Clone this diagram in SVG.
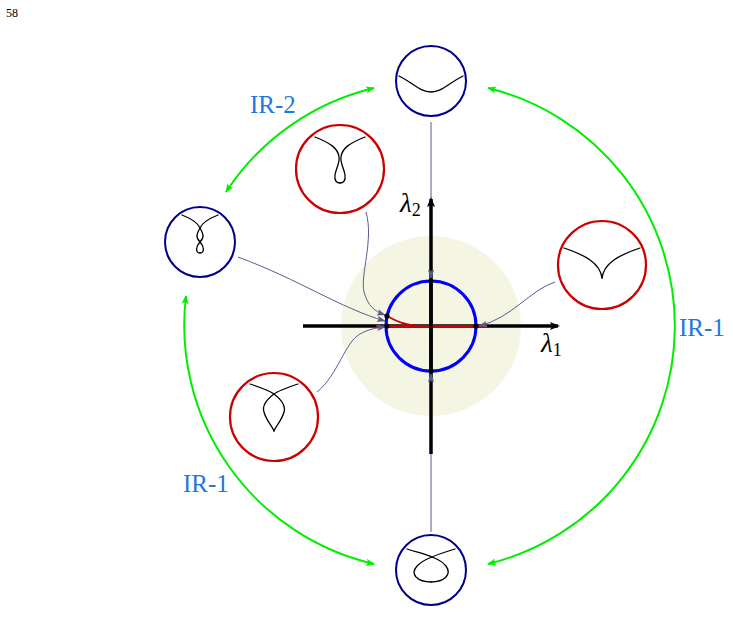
<svg xmlns="http://www.w3.org/2000/svg" width="733" height="635" viewBox="0 0 733 635">
<style>
.navy{fill:#fff;stroke:#00008b;stroke-width:2}
.red{fill:#fff;stroke:#cc0000;stroke-width:2.2}
.curve{fill:none;stroke:#000;stroke-width:1.3;stroke-linecap:round}
.conn{fill:none;stroke:#5b5b8f;stroke-width:1}
.green{fill:none;stroke:#00ee00;stroke-width:2}
.serif{font-family:'Liberation Serif','Times New Roman','DejaVu Serif',serif}
.ir{font-size:25px;fill:#1e78dc}
.lam{font-style:italic;font-size:27px;fill:#000}
.dot{fill:#000}
</style>
<defs>
<marker id="ga" viewBox="0 0 10 10" refX="9" refY="5" markerWidth="9" markerHeight="9" markerUnits="userSpaceOnUse" orient="auto-start-reverse"><path d="M0,1 L10,5 L0,9 L2.5,5 Z" fill="#00ee00"/></marker>
<marker id="ca" viewBox="0 0 10 10" refX="9" refY="5" markerWidth="9" markerHeight="9" markerUnits="userSpaceOnUse" orient="auto"><path d="M0,1.5 L10,5 L0,8.5 L2,5 Z" fill="#5b5b8f"/></marker>
<marker id="ka" viewBox="0 0 10 10" refX="8" refY="5" markerWidth="10" markerHeight="10" markerUnits="userSpaceOnUse" orient="auto"><path d="M0,1 L10,5 L0,9 L2,5 Z" fill="#000"/></marker>
</defs>
<text class="serif" x="6" y="17" font-size="12">58</text>
<circle cx="431" cy="326" r="90" fill="#f5f5e3"/>
<g id="arcs">
<path class="green" d="M488,88 A245,245 0 0 1 488,564" marker-start="url(#ga)" marker-end="url(#ga)"/>
<path class="green" d="M226,192 A245,245 0 0 1 374,88" marker-start="url(#ga)" marker-end="url(#ga)"/>
<path class="green" d="M186,296 A245,245 0 0 0 374,564" marker-start="url(#ga)" marker-end="url(#ga)"/>
</g>
<text class="serif ir" x="250" y="113">IR-2</text>
<text class="serif ir" x="679" y="336">IR-1</text>
<text class="serif ir" x="183" y="492">IR-1</text>
<g id="connectors">
<path class="conn" d="M431,122 L431,278"/>
<path class="conn" d="M431,532 L431,374"/>
</g>
<g id="axes">
<line x1="303" y1="326" x2="558" y2="326" stroke="#000" stroke-width="3.5" marker-end="url(#ka)"/>
<line x1="431" y1="454" x2="431" y2="199" stroke="#000" stroke-width="3.5" marker-end="url(#ka)"/>
<text class="serif lam" x="400" y="212">λ<tspan font-size="18" font-style="normal" dy="4">2</tspan></text>
<text class="serif lam" x="541" y="352">λ<tspan font-size="18" font-style="normal" dy="4">1</tspan></text>
</g>
<g id="center">
<line x1="376" y1="326" x2="487" y2="326" stroke="#cc0000" stroke-width="2"/>
<path d="M387,316 C398,322 405,325 420,326" fill="none" stroke="#cc0000" stroke-width="1.8"/>
<circle cx="431" cy="326" r="45" fill="none" stroke="#0000ff" stroke-width="3"/>
<line x1="431" y1="281" x2="431" y2="371" stroke="#000" stroke-width="3.5"/>
</g>
<g id="connectors-2">
<path class="conn" d="M431,270 L431,278" marker-end="url(#ca)"/>
<path class="conn" d="M431,382 L431,374" marker-end="url(#ca)"/>
<path class="conn" d="M238,257 C300,280 340,308 385,321" marker-end="url(#ca)"/>
<path class="conn" d="M366,212 C374,240 360,275 364,292 C368,306 374,311 385,315" marker-end="url(#ca)"/>
<path class="conn" d="M317,392 C338,375 345,342 360,334 C369,329 376,328 385,327" marker-end="url(#ca)"/>
<path class="conn" d="M555,282 C530,290 512,318 479,326" marker-end="url(#ca)"/>
</g>
<g id="dots">
<circle class="dot" cx="387" cy="316" r="2.6"/>
<circle class="dot" cx="387" cy="326" r="2.6"/>
<circle class="dot" cx="476" cy="326" r="2.6"/>
<circle class="dot" cx="431" cy="281" r="2.6"/>
<circle class="dot" cx="431" cy="371" r="2.6"/>
</g>
<g id="node-top">
<circle class="navy" cx="431" cy="81" r="35"/>
<path class="curve" d="M399,76 C415,84 420,92 431,92 C442,92 447,84 463,76"/>
</g>
<g id="node-left">
<circle class="navy" cx="200" cy="242" r="35"/>
<path class="curve" d="M182,215 C192,219 198,223 200,228 C203,233 205,237 200,242 C196,246 195,253 200,253"/>
<path class="curve" d="M218,215 C208,219 202,223 200,228 C197,233 195,237 200,242 C204,246 205,253 200,253"/>
</g>
<g id="node-bottom">
<circle class="navy" cx="431" cy="570" r="35"/>
<path class="curve" d="M407,549 C420,553 428,555 432,557 C445,562 452,570 446,577 C441,582 435,582 431,582"/>
<path class="curve" d="M455,549 C442,553 436,555 432,557 C419,562 410,570 416,577 C421,582 427,582 431,582"/>
</g>
<g id="node-red-top">
<circle class="red" cx="340" cy="169" r="44"/>
<path class="curve" d="M315,137 C330,143 338,148 339,157 C340,163 336,168 335,175 C334,181 337,183 340,183"/>
<path class="curve" d="M365,137 C350,143 342,148 341,157 C340,163 344,168 345,175 C346,181 343,183 340,183"/>
</g>
<g id="node-red-right">
<circle class="red" cx="602" cy="265" r="44"/>
<path class="curve" d="M564,248 C585,255 600,263 602,278"/>
<path class="curve" d="M640,248 C619,255 604,263 602,278"/>
</g>
<g id="node-red-left">
<circle class="red" cx="274" cy="417" r="44"/>
<path class="curve" d="M250,384 C262,388 270,391 274,394 C282,400 286,406 284,412 C282,420 276,426 274,431"/>
<path class="curve" d="M298,384 C286,388 278,391 274,394 C266,400 262,406 264,412 C266,420 272,426 274,431"/>
</g>
</svg>
